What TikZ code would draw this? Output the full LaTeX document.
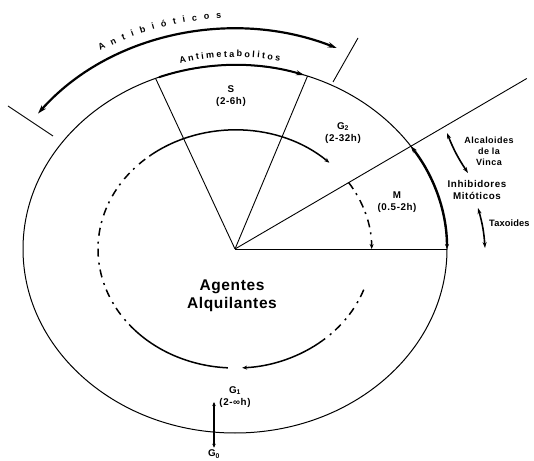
\documentclass[tikz,border=0pt]{standalone}
\usepackage{fontspec}
\setmainfont{Liberation Sans}
\usetikzlibrary{arrows.meta,decorations.text,calc}

\begin{document}
\begin{tikzpicture}[x=1pt,y=1pt,
  lab/.style={font=\bfseries\fontsize{9.8}{12}\selectfont\addfontfeatures{LetterSpace=6},
    align=center, inner sep=0pt},
  biglab/.style={font=\bfseries\fontsize{15.5}{18}\selectfont\addfontfeatures{LetterSpace=4},
    align=center, inner sep=0pt},
  ring/.style={line width=1pt},
  spoke/.style={line width=0.9pt},
  inner/.style={line width=1.5pt},
  broken/.style={inner, dash pattern=on 8pt off 5pt on 2pt off 6pt},
  smalltip/.style={-{Stealth[length=5pt,width=4pt]}},
  phasearrow/.style={line width=2pt, -{Stealth[length=8pt,width=5pt]}},
  bigarrow/.style={line width=2.2pt,
    {Stealth[length=9pt,width=5.5pt]}-{Stealth[length=9pt,width=5.5pt]}},
  drugarrow/.style={line width=1.6pt,
    {Stealth[length=6pt,width=4pt]}-{Stealth[length=6pt,width=4pt]}},
]
\useasboundingbox (0,0) rectangle (534,460);
\coordinate (O) at (235,211);

% outer ring of the cycle
\draw[ring] (O) ellipse [x radius=212pt, y radius=184pt];

% phase boundaries
\coordinate (s1) at ($(O)+(112:212pt and 184pt)$);
\coordinate (s2) at ($(O)+(70:212pt and 184pt)$);
\coordinate (s3) at ($(O)+(30.3:338pt)$);
\coordinate (s4) at ($(O)+(0:212pt and 184pt)$);
\draw[spoke] (O) -- (s1);
\draw[spoke] (O) -- (s2);
\draw[spoke] (O) -- (s3);
\draw[spoke] (O) -- (s4);

% Antimetabolitos: along the S sector
\draw[phasearrow] ($(O)+(111:212pt and 184pt)$)
  arc[start angle=111, end angle=71, x radius=212pt, y radius=184pt];
\path[decorate, decoration={text along path,
    text={|\bfseries\fontsize{9}{10}\selectfont|Antimetabolitos},
    text align={fit to path}}]
  ($(O)+(104.4:221pt and 192pt)$)
  arc[start angle=104.4, end angle=78.3, x radius=221pt, y radius=192pt];

% M sector: mitotic inhibitors
\draw[line width=2.4pt, {Stealth[length=7pt,width=4.5pt]}-{Stealth[length=5pt,width=4pt]}]
  ($(O)+(34:212pt and 184pt)$)
  arc[start angle=34, end angle=0, x radius=212pt, y radius=184pt];

% Antibioticos span with its end marks
\draw[bigarrow] ($(O)+(142:250pt and 220pt)$)
  arc[start angle=142, end angle=66, x radius=250pt, y radius=220pt];
\path[decorate, decoration={text along path,
    text={|\bfseries\fontsize{9}{10}\selectfont|Antibióticos},
    text align={fit to path}}]
  ($(O)+(121:262pt and 231pt)$)
  arc[start angle=121, end angle=93, x radius=262pt, y radius=231pt];
\coordinate (t1a) at (8,354);
\coordinate (t1b) at (53,324);
\coordinate (t2a) at (358,422);
\coordinate (t2b) at (333,378);
\draw[spoke] (t1a) -- (t1b);
\draw[spoke] (t2a) -- (t2b);

% inner cycle arrows
\draw[inner] ($(O)+(267:137pt and 119pt)$)
  arc[start angle=267, end angle=223, x radius=137pt, y radius=119pt];
\draw[broken] ($(O)+(223:137pt and 119pt)$)
  arc[start angle=223, end angle=128, x radius=137pt, y radius=119pt];
\draw[inner, smalltip] ($(O)+(128:137pt and 119pt)$)
  arc[start angle=128, end angle=46.5, x radius=137pt, y radius=119pt];
\draw[broken, smalltip] ($(O)+(34:137pt and 119pt)$)
  arc[start angle=34, end angle=0, x radius=135pt, y radius=119pt];
\draw[broken] ($(O)+(-20:137pt and 119pt)$)
  arc[start angle=-20, end angle=-50, x radius=137pt, y radius=119pt];
\draw[inner, smalltip] ($(O)+(-50:137pt and 119pt)$)
  arc[start angle=-50, end angle=-87, x radius=137pt, y radius=119pt];

% phase labels
\node[lab] (S) at (231,364) {S\\(2-6h)};
\node[lab] (G2) at (343,327) {G\textsubscript{2}\\(2-32h)};
\node[lab] (M) at (397,258) {M\\(0.5-2h)};
\node[lab] (G1) at (235,63) {G\textsubscript{1}\\(2-∞h)};
\node[lab, anchor=south] (G0) at (214,1.5) {G\textsubscript{0}};
\node[biglab] (alq) at (232,164) {Agentes\\Alquilantes};

% G1 <-> G0
\coordinate (g0top) at (214,58);
\draw[line width=1.6pt, {Stealth[length=4pt,width=3.5pt]}-{Stealth[length=4pt,width=3.5pt]}]
  (g0top) -- ([yshift=2pt]G0.north);

% mitotic inhibitors
\node[lab] (inh) at (477,270) {Inhibidores\\Mitóticos};
\node[lab, font=\bfseries\fontsize{9}{11}\selectfont\addfontfeatures{LetterSpace=5}]
  (alc) at (489,309) {Alcaloides\\de la\\Vinca};
\node[lab, anchor=west, font=\bfseries\fontsize{9.3}{11}\selectfont\addfontfeatures{LetterSpace=1}]
  (tax) at (489,237) {Taxoides};
\coordinate (a1) at (447,327);
\coordinate (a2) at (468,287);
\coordinate (b1) at (478,252);
\coordinate (b2) at (485,212);
\draw[drugarrow] (a1) to[bend right=6] (a2);
\draw[drugarrow] (b1) to[bend left=6] (b2);
\end{tikzpicture}
\end{document}
